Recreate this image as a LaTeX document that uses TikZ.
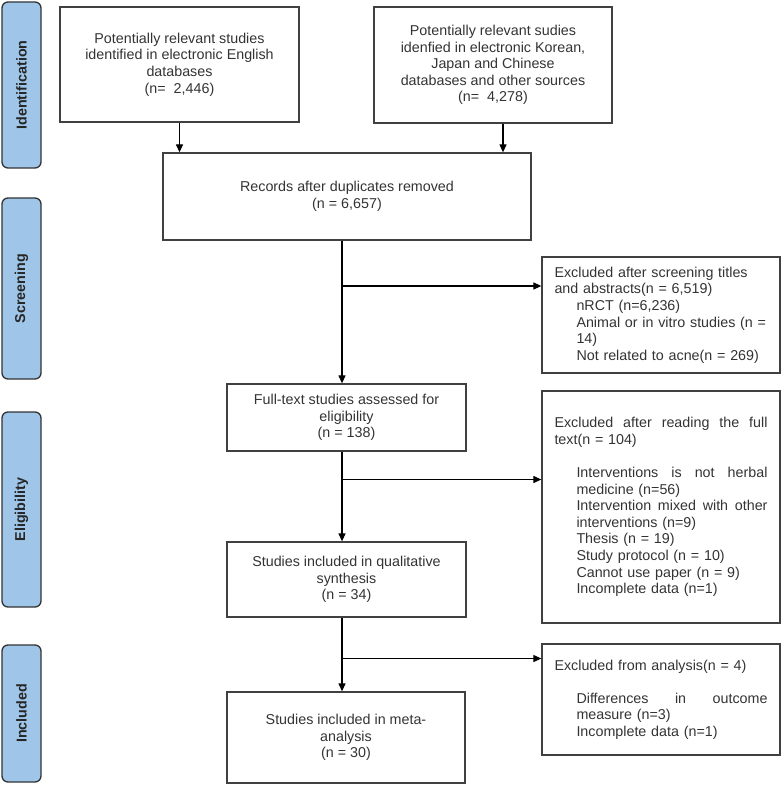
\documentclass[tikz,border=0pt]{standalone}
\usepackage{fontspec}
\setmainfont{Liberation Sans}
\usetikzlibrary{positioning}
\usetikzlibrary{arrows.meta}
\definecolor{phaseblue}{HTML}{9FC5E8}
\newcommand{\flowfont}{\fontsize{14.3bp}{16.6bp}\selectfont}
\newcommand{\subind}{\hspace*{22bp}}

\begin{document}
\begin{tikzpicture}[x=1bp,y=-1bp,
 box/.style={draw=black!75,line width=1.3bp,text=black!80,font=\flowfont,align=center,inner sep=0pt},
 exbox/.style={draw=black!75,line width=1.3bp,text=black!80,font=\flowfont,align=left,text width=213bp,inner xsep=12.5bp,inner ysep=0pt},
 phase/.style={draw=black!80,fill=phaseblue,line width=1.3bp,rounded corners=6bp,rotate=90,font=\flowfont\bfseries,text=black!85,minimum height=39bp,inner sep=0pt},
 arr/.style={-{Triangle[length=8bp,width=7bp]},line width=1.2bp}]
 \useasboundingbox (0,0) rectangle (782,785);
 \node[phase,minimum width=166bp] (ident) at (21.5,85) {Identification};
 \node[phase,minimum width=181bp] (screen) at (21.5,288.5) {Screening};
 \node[phase,minimum width=195bp] (elig) at (21.5,509.5) {Eligibility};
 \node[phase,minimum width=137bp] (incl) at (21.5,713.5) {Included};
 \node[box,minimum width=239bp,minimum height=115bp] (eng) at (179.5,64.5) {Potentially relevant studies\\identified in electronic English\\databases\\(n=\ \ 2,446)};
 \node[box,minimum width=238bp,minimum height=116bp] (kor) at (493,65) {Potentially relevant sudies\\idenfied in electronic Korean,\\Japan and Chinese\\databases and other sources\\(n=\ \ 4,278)};
 \node[box,minimum width=368bp,minimum height=87bp] (recs) at (347,196.5) {Records after duplicates removed\\(n = 6,657)};
 \node[box,minimum width=239bp,minimum height=67bp] (full) at (346.5,417.5) {Full-text studies assessed for\\eligibility\\(n = 138)};
 \node[box,minimum width=239bp,minimum height=75bp] (qual) at (346.5,579.5) {Studies included in qualitative\\synthesis\\(n = 34)};
 \node[box,minimum width=238bp,minimum height=91bp] (meta) at (346,737.5) {Studies included in meta-\\analysis\\(n = 30)};
 \node[exbox,minimum height=116bp] (exscr) at (661,315) {Excluded after screening titles\\and abstracts(n = 6,519)\\\subind nRCT (n=6,236)\\\subind Animal or in vitro studies (n =\\\subind 14)\\\subind Not related to acne(n = 269)};
 \node[exbox,minimum height=232bp] (exfull) at (661,507) {\makebox[213bp][l]{Excluded\hfill after\hfill reading\hfill the\hfill full}\\text(n = 104)\\[16.6bp]\subind\makebox[191bp][l]{Interventions\hfill is\hfill not\hfill herbal}\\\subind medicine (n=56)\\\subind\makebox[191bp][l]{Intervention\hfill mixed\hfill with\hfill other}\\\subind interventions (n=9)\\\subind Thesis (n = 19)\\\subind Study protocol (n = 10)\\\subind Cannot use paper (n = 9)\\\subind Incomplete data (n=1)};
 \node[exbox,minimum height=111bp] (exana) at (661,699.5) {Excluded from analysis(n = 4)\\[16.6bp]\subind\makebox[191bp][l]{Differences\hfill in\hfill outcome}\\\subind measure (n=3)\\\subind Incomplete data (n=1)};
 \coordinate (b1) at (342,286);
 \coordinate (b2) at (342,479.5);
 \coordinate (b3) at (342,658.5);
 \draw[arr] (eng.south) -- (eng.south |- recs.north);
 \draw[arr] ([xshift=10bp]kor.south) -- ([xshift=10bp]kor.south |- recs.north);
 \draw[arr] (recs.south -| b1) -- (full.north -| b1);
 \draw[arr] (b1) -- (b1 -| exscr.west);
 \draw[arr] (full.south -| b2) -- (qual.north -| b2);
 \draw[arr] (b2) -- (b2 -| exfull.west);
 \draw[arr] (qual.south -| b3) -- (meta.north -| b3);
 \draw[arr] (b3) -- (b3 -| exana.west);
\end{tikzpicture}
\end{document}
